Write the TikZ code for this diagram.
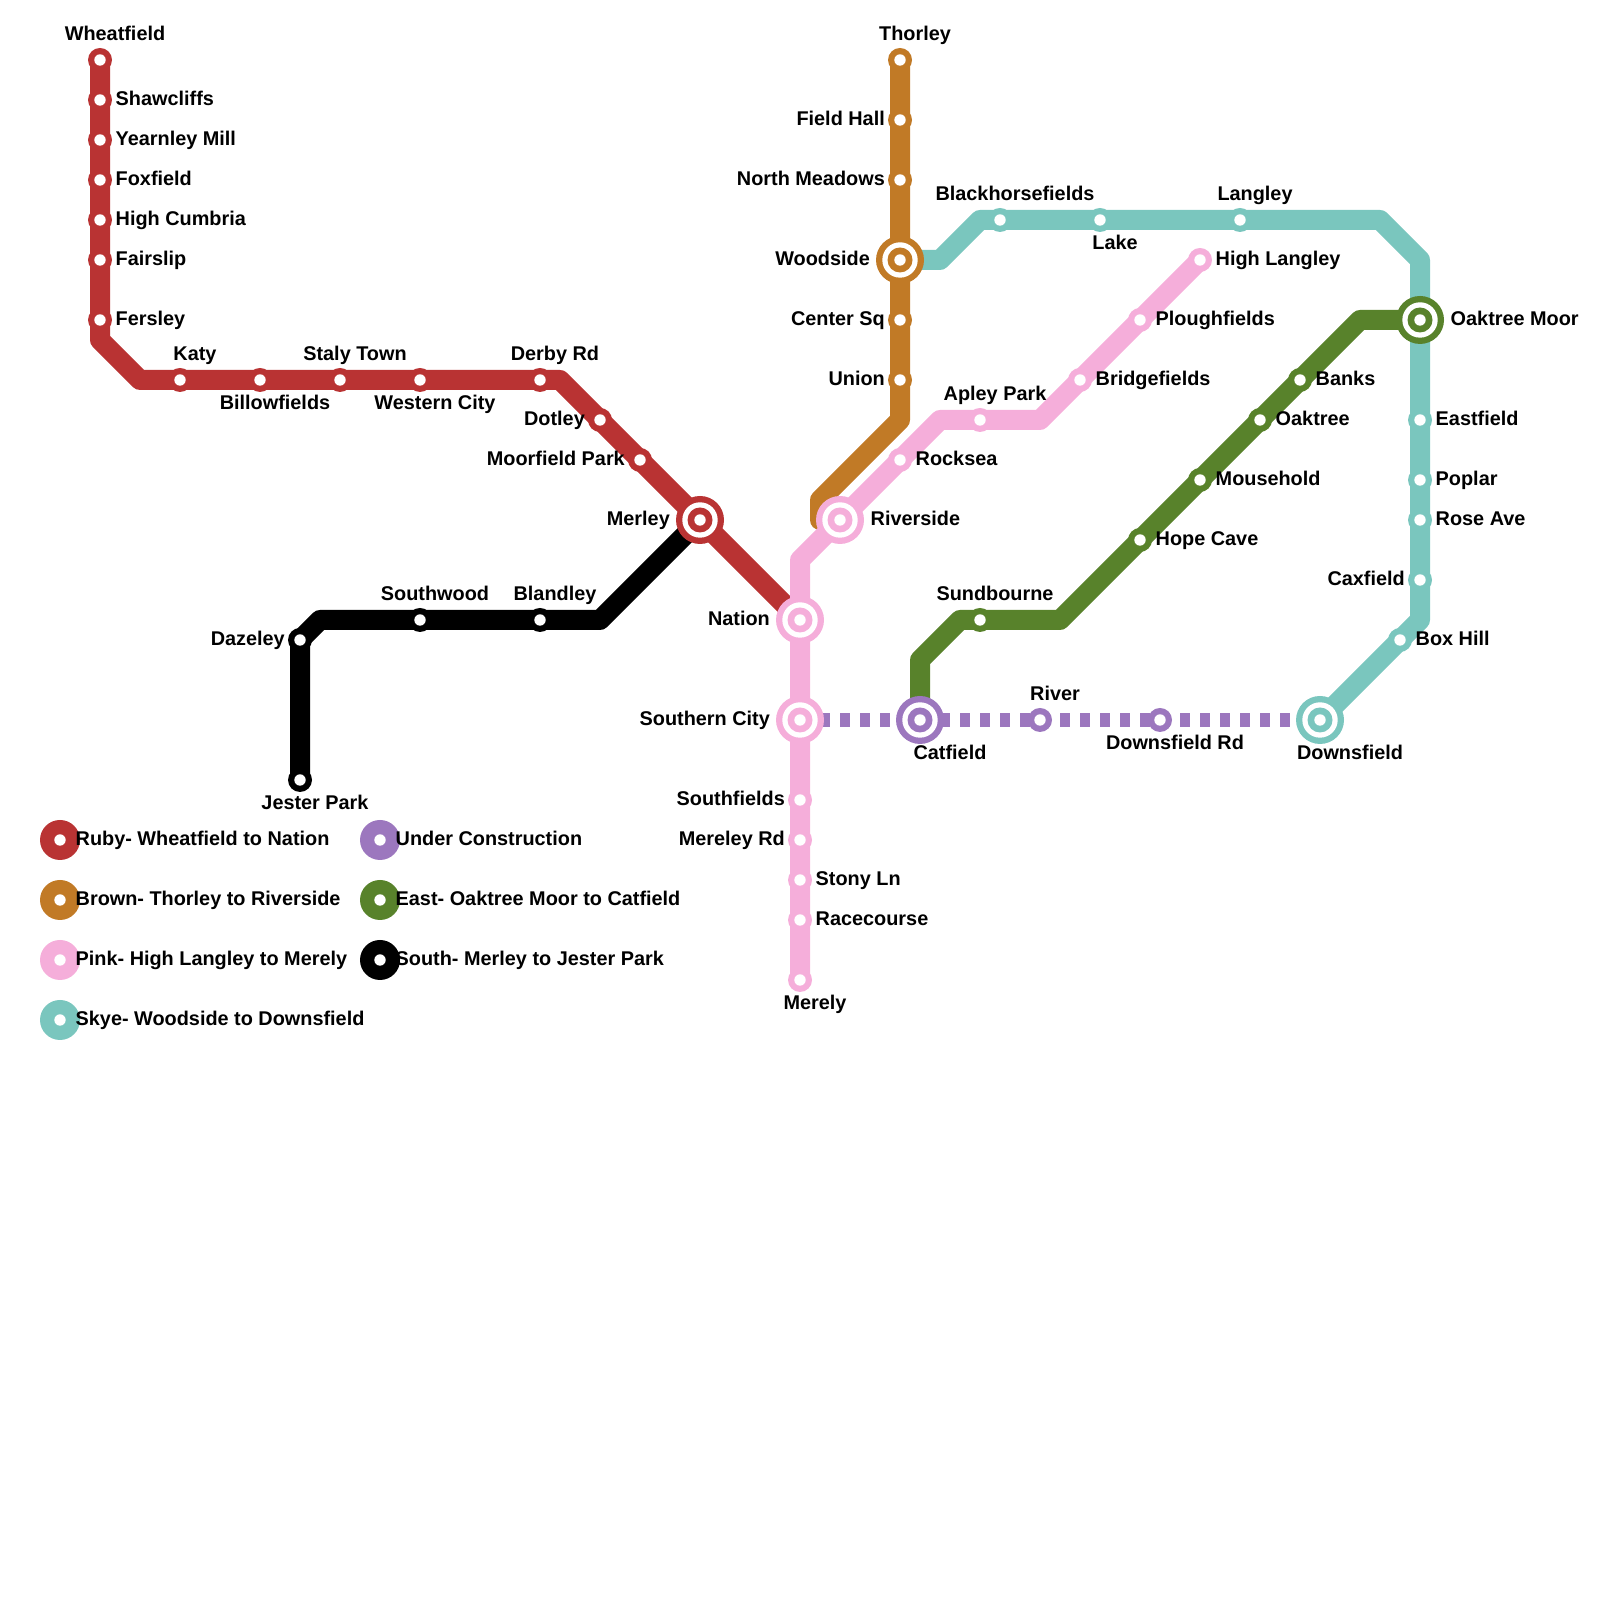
\documentclass[tikz,border=0pt]{standalone}
\usepackage{tkz-euclide}
\usepackage{fontspec}
\setmainfont{Liberation Sans}
\definecolor{ruby}{HTML}{B93333}
\definecolor{brown}{HTML}{C17A26}
\definecolor{pink}{HTML}{F5AEDA}
\definecolor{skye}{HTML}{7AC6BE}
\definecolor{east}{HTML}{58822B}
\definecolor{build}{HTML}{9C77BE}
\tikzset{
  track/.style={line width=0.2cm, line join=round, color=#1},
  stop/.style={circle, inner sep=0pt, minimum size=0.24cm, fill=#1,
    path picture={\fill [white] (path picture bounding box.center) circle (0.057);}},
  hub/.style={circle, inner sep=0pt, minimum size=0.48cm, fill=#1,
    path picture={\fill [white] (path picture bounding box.center) circle (0.177);
      \fill [#1] (path picture bounding box.center) circle (0.125);
      \fill [white] (path picture bounding box.center) circle (0.057);}},
  linekey/.style={circle, inner sep=0pt, minimum size=0.4cm, fill=#1,
    path picture={\fill [white] (path picture bounding box.center) circle (0.057);}},
  tag/.style={inner sep=0pt, font=\fontsize{5.65pt}{7pt}\selectfont\bfseries},
  tagR/.style={tag, anchor=base west, xshift=0.15cm, yshift=-0.06cm},
  tagL/.style={tag, anchor=base east, xshift=-0.145cm, yshift=-0.06cm},
  tagT/.style={tag, anchor=base, xshift=0.15cm, yshift=0.19cm},
  tagB/.style={tag, anchor=base, xshift=0.15cm, yshift=-0.30cm},
  hubR/.style={tag, anchor=base west, xshift=0.3cm, yshift=-0.06cm},
  hubL/.style={tag, anchor=base east, xshift=-0.295cm, yshift=-0.06cm},
  hubB/.style={tag, anchor=base, xshift=0.3cm, yshift=-0.40cm},
  keytag/.style={tag, anchor=base west, xshift=0.15cm, yshift=-0.06cm}
}
\begin{document}
\begin{tikzpicture}
\useasboundingbox (0,0) rectangle (16,16);
\tkzDefPoints{1/15.4/Wheatfield, 1/15/Shawcliffs, 1/14.6/Yearnley, 1/14.2/Foxfield, 1/13.8/HighCumbria, 1/13.4/Fairslip, 1/12.8/Fersley, 1/12.6/rubyA, 1.4/12.2/rubyB, 1.8/12.2/Katy, 2.6/12.2/Billowfields, 3.4/12.2/StalyTown, 4.2/12.2/WesternCity, 5.4/12.2/DerbyRd, 5.6/12.2/rubyC, 6/11.8/Dotley, 6.4/11.4/MoorfieldPark, 7/10.8/Merley, 8/9.8/Nation}
\tkzDefPoints{9/15.4/Thorley, 9/14.8/FieldHall, 9/14.2/NorthMeadows, 9/13.4/Woodside, 9/12.8/CenterSq, 9/12.2/Union, 9/11.8/brownA, 8.2/11/brownB, 8.2/10.8/brownC, 8.4/10.8/Riverside}
\tkzDefPoints{12/13.4/HighLangley, 11.4/12.8/Ploughfields, 10.8/12.2/Bridgefields, 10.4/11.8/pinkA, 9.8/11.8/ApleyPark, 9.4/11.8/pinkB, 9/11.4/Rocksea, 8/10.4/pinkC, 8/8.8/SouthernCity, 8/8/Southfields, 8/7.6/MereleyRd, 8/7.2/StonyLn, 8/6.8/Racecourse, 8/6.2/Merely}
\tkzDefPoints{9.4/13.4/skyeA, 9.8/13.8/skyeB, 10/13.8/Blackhorsefields, 11/13.8/Lake, 12.4/13.8/Langley, 13.8/13.8/skyeC, 14.2/13.4/skyeD, 14.2/12.8/OaktreeMoor, 14.2/11.8/Eastfield, 14.2/11.2/Poplar, 14.2/10.8/RoseAve, 14.2/10.2/Caxfield, 14.2/9.8/skyeE, 14/9.6/BoxHill, 13.2/8.8/Downsfield}
\tkzDefPoints{13.6/12.8/eastA, 13/12.2/Banks, 12.6/11.8/Oaktree, 12/11.2/Mousehold, 11.4/10.6/HopeCave, 10.6/9.8/eastB, 9.8/9.8/Sundbourne, 9.6/9.8/eastC, 9.2/9.4/eastD, 9.2/8.8/Catfield}
\tkzDefPoints{6/9.8/southA, 5.4/9.8/Blandley, 4.2/9.8/Southwood, 3.2/9.8/southB, 3/9.6/Dazeley, 3/8.2/JesterPark, 10.4/8.8/River, 11.6/8.8/DownsfieldRd}
\tkzDefPoints{0.6/7.6/keyRuby, 0.6/7/keyBrown, 0.6/6.4/keyPink, 0.6/5.8/keySkye, 3.8/7.6/keyBuild, 3.8/7/keyEast, 3.8/6.4/keySouth}
% lines
\draw [track=black] (Merley) -- (southA) -- (southB) -- (Dazeley) -- (JesterPark);
\draw [track=ruby] (Wheatfield) -- (rubyA) -- (rubyB) -- (rubyC) -- (Nation);
\draw [track=skye] (Woodside) -- (skyeA) -- (skyeB) -- (skyeC) -- (skyeD) -- (skyeE) -- (Downsfield);
\draw [track=brown] (Thorley) -- (brownA) -- (brownB) -- (brownC) -- (Riverside);
\draw [track=east] (OaktreeMoor) -- (eastA) -- (eastB) -- (eastC) -- (eastD) -- (Catfield);
\draw [color=build, line width=0.14cm, dash pattern=on 0.1cm off 0.1cm] (SouthernCity) -- (Downsfield);
\draw [track=pink] (HighLangley) -- (pinkA) -- (pinkB) -- (pinkC) -- (Merely);
% ruby
\node at (Wheatfield) [stop=ruby] (sWheatfield) {};
\node at (Shawcliffs) [stop=ruby] (sShawcliffs) {};
\node at (Yearnley) [stop=ruby] (sYearnley) {};
\node at (Foxfield) [stop=ruby] (sFoxfield) {};
\node at (HighCumbria) [stop=ruby] (sHighCumbria) {};
\node at (Fairslip) [stop=ruby] (sFairslip) {};
\node at (Fersley) [stop=ruby] (sFersley) {};
\node at (Katy) [stop=ruby] (sKaty) {};
\node at (Billowfields) [stop=ruby] (sBillowfields) {};
\node at (StalyTown) [stop=ruby] (sStalyTown) {};
\node at (WesternCity) [stop=ruby] (sWesternCity) {};
\node at (DerbyRd) [stop=ruby] (sDerbyRd) {};
\node at (Dotley) [stop=ruby] (sDotley) {};
\node at (MoorfieldPark) [stop=ruby] (sMoorfieldPark) {};
\node at (Merley) [hub=ruby] (sMerley) {};
\node at (Wheatfield) [tagT] (tWheatfield) {Wheatfield};
\node at (Shawcliffs) [tagR] (tShawcliffs) {Shawcliffs};
\node at (Yearnley) [tagR] (tYearnley) {Yearnley Mill};
\node at (Foxfield) [tagR] (tFoxfield) {Foxfield};
\node at (HighCumbria) [tagR] (tHighCumbria) {High Cumbria};
\node at (Fairslip) [tagR] (tFairslip) {Fairslip};
\node at (Fersley) [tagR] (tFersley) {Fersley};
\node at (Katy) [tagT] (tKaty) {Katy};
\node at (Billowfields) [tagB] (tBillowfields) {Billowfields};
\node at (StalyTown) [tagT] (tStalyTown) {Staly Town};
\node at (WesternCity) [tagB] (tWesternCity) {Western City};
\node at (DerbyRd) [tagT] (tDerbyRd) {Derby Rd};
\node at (Dotley) [tagL] (tDotley) {Dotley};
\node at (MoorfieldPark) [tagL] (tMoorfieldPark) {Moorfield Park};
\node at (Merley) [hubL] (tMerley) {Merley};
% brown
\node at (Thorley) [stop=brown] (sThorley) {};
\node at (FieldHall) [stop=brown] (sFieldHall) {};
\node at (NorthMeadows) [stop=brown] (sNorthMeadows) {};
\node at (Woodside) [hub=brown] (sWoodside) {};
\node at (CenterSq) [stop=brown] (sCenterSq) {};
\node at (Union) [stop=brown] (sUnion) {};
\node at (Thorley) [tagT] (tThorley) {Thorley};
\node at (FieldHall) [tagL] (tFieldHall) {Field Hall};
\node at (NorthMeadows) [tagL] (tNorthMeadows) {North Meadows};
\node at (Woodside) [hubL] (tWoodside) {Woodside};
\node at (CenterSq) [tagL] (tCenterSq) {Center Sq};
\node at (Union) [tagL] (tUnion) {Union};
% pink
\node at (HighLangley) [stop=pink] (sHighLangley) {};
\node at (Ploughfields) [stop=pink] (sPloughfields) {};
\node at (Bridgefields) [stop=pink] (sBridgefields) {};
\node at (ApleyPark) [stop=pink] (sApleyPark) {};
\node at (Rocksea) [stop=pink] (sRocksea) {};
\node at (Riverside) [hub=pink] (sRiverside) {};
\node at (Nation) [hub=pink] (sNation) {};
\node at (SouthernCity) [hub=pink] (sSouthernCity) {};
\node at (Southfields) [stop=pink] (sSouthfields) {};
\node at (MereleyRd) [stop=pink] (sMereleyRd) {};
\node at (StonyLn) [stop=pink] (sStonyLn) {};
\node at (Racecourse) [stop=pink] (sRacecourse) {};
\node at (Merely) [stop=pink] (sMerely) {};
\node at (HighLangley) [tagR] (tHighLangley) {High Langley};
\node at (Ploughfields) [tagR] (tPloughfields) {Ploughfields};
\node at (Bridgefields) [tagR] (tBridgefields) {Bridgefields};
\node at (ApleyPark) [tagT] (tApleyPark) {Apley Park};
\node at (Rocksea) [tagR] (tRocksea) {Rocksea};
\node at (Riverside) [hubR] (tRiverside) {Riverside};
\node at (Nation) [hubL] (tNation) {Nation};
\node at (SouthernCity) [hubL] (tSouthernCity) {Southern City};
\node at (Southfields) [tagL] (tSouthfields) {Southfields};
\node at (MereleyRd) [tagL] (tMereleyRd) {Mereley Rd};
\node at (StonyLn) [tagR] (tStonyLn) {Stony Ln};
\node at (Racecourse) [tagR] (tRacecourse) {Racecourse};
\node at (Merely) [tagB] (tMerely) {Merely};
% skye
\node at (Blackhorsefields) [stop=skye] (sBlackhorsefields) {};
\node at (Lake) [stop=skye] (sLake) {};
\node at (Langley) [stop=skye] (sLangley) {};
\node at (Eastfield) [stop=skye] (sEastfield) {};
\node at (Poplar) [stop=skye] (sPoplar) {};
\node at (RoseAve) [stop=skye] (sRoseAve) {};
\node at (Caxfield) [stop=skye] (sCaxfield) {};
\node at (BoxHill) [stop=skye] (sBoxHill) {};
\node at (Downsfield) [hub=skye] (sDownsfield) {};
\node at (Blackhorsefields) [tagT] (tBlackhorsefields) {Blackhorsefields};
\node at (Lake) [tagB] (tLake) {Lake};
\node at (Langley) [tagT] (tLangley) {Langley};
\node at (Eastfield) [tagR] (tEastfield) {Eastfield};
\node at (Poplar) [tagR] (tPoplar) {Poplar};
\node at (RoseAve) [tagR] (tRoseAve) {Rose Ave};
\node at (Caxfield) [tagL] (tCaxfield) {Caxfield};
\node at (BoxHill) [tagR] (tBoxHill) {Box Hill};
\node at (Downsfield) [hubB] (tDownsfield) {Downsfield};
% east
\node at (OaktreeMoor) [hub=east] (sOaktreeMoor) {};
\node at (Banks) [stop=east] (sBanks) {};
\node at (Oaktree) [stop=east] (sOaktree) {};
\node at (Mousehold) [stop=east] (sMousehold) {};
\node at (HopeCave) [stop=east] (sHopeCave) {};
\node at (Sundbourne) [stop=east] (sSundbourne) {};
\node at (OaktreeMoor) [hubR] (tOaktreeMoor) {Oaktree Moor};
\node at (Banks) [tagR] (tBanks) {Banks};
\node at (Oaktree) [tagR] (tOaktree) {Oaktree};
\node at (Mousehold) [tagR] (tMousehold) {Mousehold};
\node at (HopeCave) [tagR] (tHopeCave) {Hope Cave};
\node at (Sundbourne) [tagT] (tSundbourne) {Sundbourne};
% under construction
\node at (Catfield) [hub=build] (sCatfield) {};
\node at (River) [stop=build] (sRiver) {};
\node at (DownsfieldRd) [stop=build] (sDownsfieldRd) {};
\node at (Catfield) [hubB] (tCatfield) {Catfield};
\node at (River) [tagT] (tRiver) {River};
\node at (DownsfieldRd) [tagB] (tDownsfieldRd) {Downsfield Rd};
% south
\node at (Blandley) [stop=black] (sBlandley) {};
\node at (Southwood) [stop=black] (sSouthwood) {};
\node at (Dazeley) [stop=black] (sDazeley) {};
\node at (JesterPark) [stop=black] (sJesterPark) {};
\node at (Blandley) [tagT] (tBlandley) {Blandley};
\node at (Southwood) [tagT] (tSouthwood) {Southwood};
\node at (Dazeley) [tagL] (tDazeley) {Dazeley};
\node at (JesterPark) [tagB] (tJesterPark) {Jester Park};
% legend
\node at (keyRuby) [linekey=ruby] (dRuby) {};
\node at (keyBrown) [linekey=brown] (dBrown) {};
\node at (keyPink) [linekey=pink] (dPink) {};
\node at (keySkye) [linekey=skye] (dSkye) {};
\node at (keyBuild) [linekey=build] (dBuild) {};
\node at (keyEast) [linekey=east] (dEast) {};
\node at (keySouth) [linekey=black] (dSouth) {};
\node at (keyRuby) [keytag] (tKeyRuby) {Ruby- Wheatfield to Nation};
\node at (keyBrown) [keytag] (tKeyBrown) {Brown- Thorley to Riverside};
\node at (keyPink) [keytag] (tKeyPink) {Pink- High Langley to Merely};
\node at (keySkye) [keytag] (tKeySkye) {Skye- Woodside to Downsfield};
\node at (keyBuild) [keytag] (tKeyBuild) {Under Construction};
\node at (keyEast) [keytag] (tKeyEast) {East- Oaktree Moor to Catfield};
\node at (keySouth) [keytag] (tKeySouth) {South- Merley to Jester Park};
\end{tikzpicture}
\end{document}
